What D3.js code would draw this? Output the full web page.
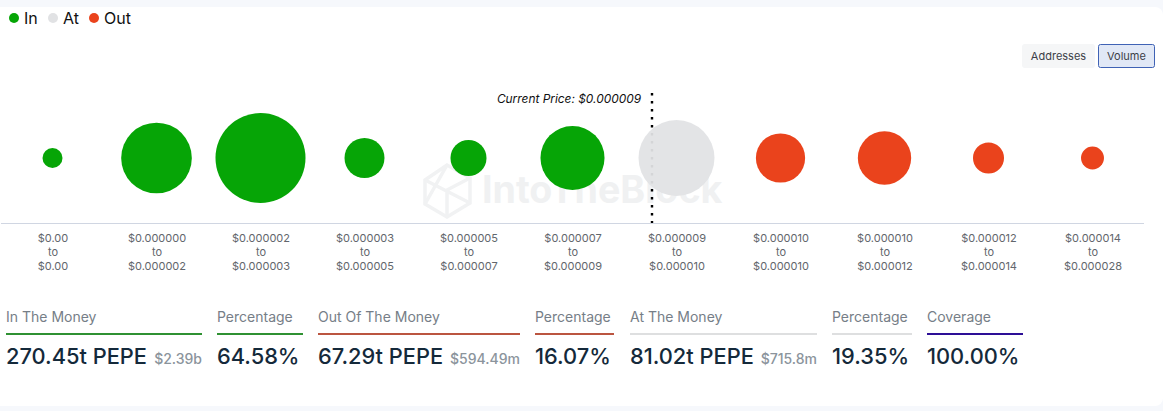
<!DOCTYPE html>
<html>
<head>
<meta charset="utf-8" />
<title>In/Out of the Money</title>
<script src="https://d3js.org/d3.v7.min.js"></script>
<style>
  html, body { margin: 0; padding: 0; background: #f6f8fc; overflow: hidden; }
  text { font-family: Inter, "Noto Sans", sans-serif; }
</style>
</head>
<body>
<script>
// price ranges, one bubble per range
var rangeFrom = ["$0.00", "$0.000000", "$0.000002", "$0.000003", "$0.000005", "$0.000007", "$0.000009", "$0.000010", "$0.000010", "$0.000012", "$0.000014"];
var rangeTo = ["$0.00", "$0.000002", "$0.000003", "$0.000005", "$0.000007", "$0.000009", "$0.000010", "$0.000010", "$0.000012", "$0.000014", "$0.000028"];
// volume in trillions of PEPE
var volumes = [5.6, 70.0, 113.6, 22.4, 18.2, 57.5, 81.0, 34.0, 39.9, 13.5, 7.4];
var states = ["In", "In", "In", "In", "In", "In", "At", "Out", "Out", "Out", "Out"];

var legendNames = ["In", "At", "Out"];
var legendColors = ["#06a506", "#e1e2e4", "#ea431c"];

var buttonNames = ["Addresses", "Volume"];
var currentPriceLabel = "Current Price: $0.000009";

var statTitles = ["In The Money", "Percentage", "Out Of The Money", "Percentage", "At The Money", "Percentage", "Coverage"];
var statValues = ["270.45t PEPE", "64.58%", "67.29t PEPE", "16.07%", "81.02t PEPE", "19.35%", "100.00%"];
var statUsd = ["$2.39b", "", "$594.49m", "", "$715.8m", "", ""];
var statColors = ["#2f9132", "#2f9132", "#bb5540", "#bb5540", "#dedfe0", "#dedfe0", "#2d0f96"];

var width = 1163, height = 411;

var svg = d3.select("body").append("svg")
    .attr("width", width)
    .attr("height", height)
    .style("display", "block");

// white card
svg.append("rect")
    .attr("x", -12).attr("y", 7)
    .attr("width", width + 12).attr("height", 399)
    .attr("rx", 8)
    .attr("fill", "#fff");

// watermark
var mark = svg.append("g").attr("fill", "none").attr("stroke", "#f1f2f3").attr("stroke-width", 3.5);
mark.append("path").attr("d", "M425,180 L447,165 L470,178 L470,203 L447,217 L425,204 Z");
mark.append("path").attr("d", "M425,180 L470,203 M447,165 L425,204 M470,178 L447,190 L447,217");
svg.append("text")
    .attr("x", 482).attr("y", 203)
    .attr("font-size", 37.6).attr("font-weight", 700)
    .attr("fill", "#f0f1f2")
    .text("IntoTheBlock");

// legend
var legendX = [14, 53, 94];
legendNames.forEach(function (d, i) {
  svg.append("circle")
      .attr("cx", legendX[i]).attr("cy", 18).attr("r", 5)
      .attr("fill", legendColors[i]);
  svg.append("text")
      .attr("x", legendX[i] + 10).attr("y", 23.5)
      .attr("font-size", 16).attr("fill", "#111")
      .text(d);
});

// buttons
svg.append("rect")
    .attr("x", 1022).attr("y", 44).attr("width", 73).attr("height", 24)
    .attr("rx", 3).attr("fill", "#f5f6f7");
svg.append("rect")
    .attr("x", 1098.5).attr("y", 44.5).attr("width", 56).attr("height", 23)
    .attr("rx", 2).attr("fill", "#e1e8f6").attr("stroke", "#3f62b5");
svg.append("text").attr("x", 1058.5).attr("y", 60).attr("text-anchor", "middle")
    .attr("font-size", 11).attr("fill", "#3c4048").text(buttonNames[0]);
svg.append("text").attr("x", 1126.5).attr("y", 60).attr("text-anchor", "middle")
    .attr("font-size", 11).attr("fill", "#3c4048").text(buttonNames[1]);

// scales
var x = d3.scaleBand().domain(d3.range(volumes.length)).range([0.5, 1144.5]);
var r = d3.scaleSqrt().domain([0, 81.0]).range([0, 38]);
var color = d3.scaleOrdinal().domain(legendNames).range(legendColors);
var bubbleY = 158, baseY = 223;

// current price marker sits behind the bubbles
svg.append("line")
    .attr("x1", 652).attr("x2", 652)
    .attr("y1", 93).attr("y2", baseY)
    .attr("stroke", "#000").attr("stroke-width", 2.4)
    .attr("stroke-dasharray", "2.4,5.6");
svg.append("text")
    .attr("x", 641).attr("y", 103)
    .attr("text-anchor", "end")
    .attr("font-size", 11.9).attr("font-style", "italic").attr("fill", "#111")
    .text(currentPriceLabel);

// bubbles
svg.selectAll("circle.bubble")
    .data(volumes)
    .enter()
    .append("circle")
    .attr("class", "bubble")
    .attr("cx", function (d, i) { return x(i) + x.bandwidth() / 2; })
    .attr("cy", bubbleY)
    .attr("r", function (d) { return r(d); })
    .attr("fill", function (d, i) { return color(states[i]); })
    .attr("fill-opacity", function (d, i) { return states[i] == "At" ? 0.94 : 1; });

// axis with the three line range labels
var axis = svg.append("g")
    .attr("transform", "translate(0," + baseY + ")")
    .call(d3.axisBottom(x).tickSize(0).tickFormat(""));
axis.select(".domain").attr("stroke", "#d0d6e2").attr("d", "M1,0.5H1144");

var tickGroups = axis.selectAll(".tick");
tickGroups.select("text").remove();
tickGroups.each(function (d, i) {
  var t = d3.select(this).append("text")
      .attr("text-anchor", "middle")
      .attr("font-size", 11)
      .attr("fill", "#62666c");
  [rangeFrom[i], "to", rangeTo[i]].forEach(function (s, j) {
    t.append("tspan").attr("x", 0.5).attr("y", 19 + j * 14).text(s);
  });
});

// stats row
var statX = [6, 217, 318, 535, 630, 832, 927];
var statW = [196, 86, 202, 79, 187, 80, 96];
statTitles.forEach(function (d, i) {
  svg.append("text")
      .attr("x", statX[i]).attr("y", 322)
      .attr("font-size", 14).attr("fill", "#767e87")
      .text(d);
  svg.append("rect")
      .attr("x", statX[i]).attr("y", 333)
      .attr("width", statW[i]).attr("height", 2)
      .attr("fill", statColors[i]);
  svg.append("text")
      .attr("x", statX[i]).attr("y", 364)
      .attr("font-size", 21.8).attr("font-weight", 500).attr("fill", "#14293a")
      .text(statValues[i]);
  if (statUsd[i]) {
    svg.append("text")
        .attr("x", statX[i] + statW[i]).attr("y", 364)
        .attr("text-anchor", "end")
        .attr("font-size", 14).attr("font-weight", 500).attr("fill", "#8b949c")
        .text(statUsd[i]);
  }
});
</script>
</body>
</html>
